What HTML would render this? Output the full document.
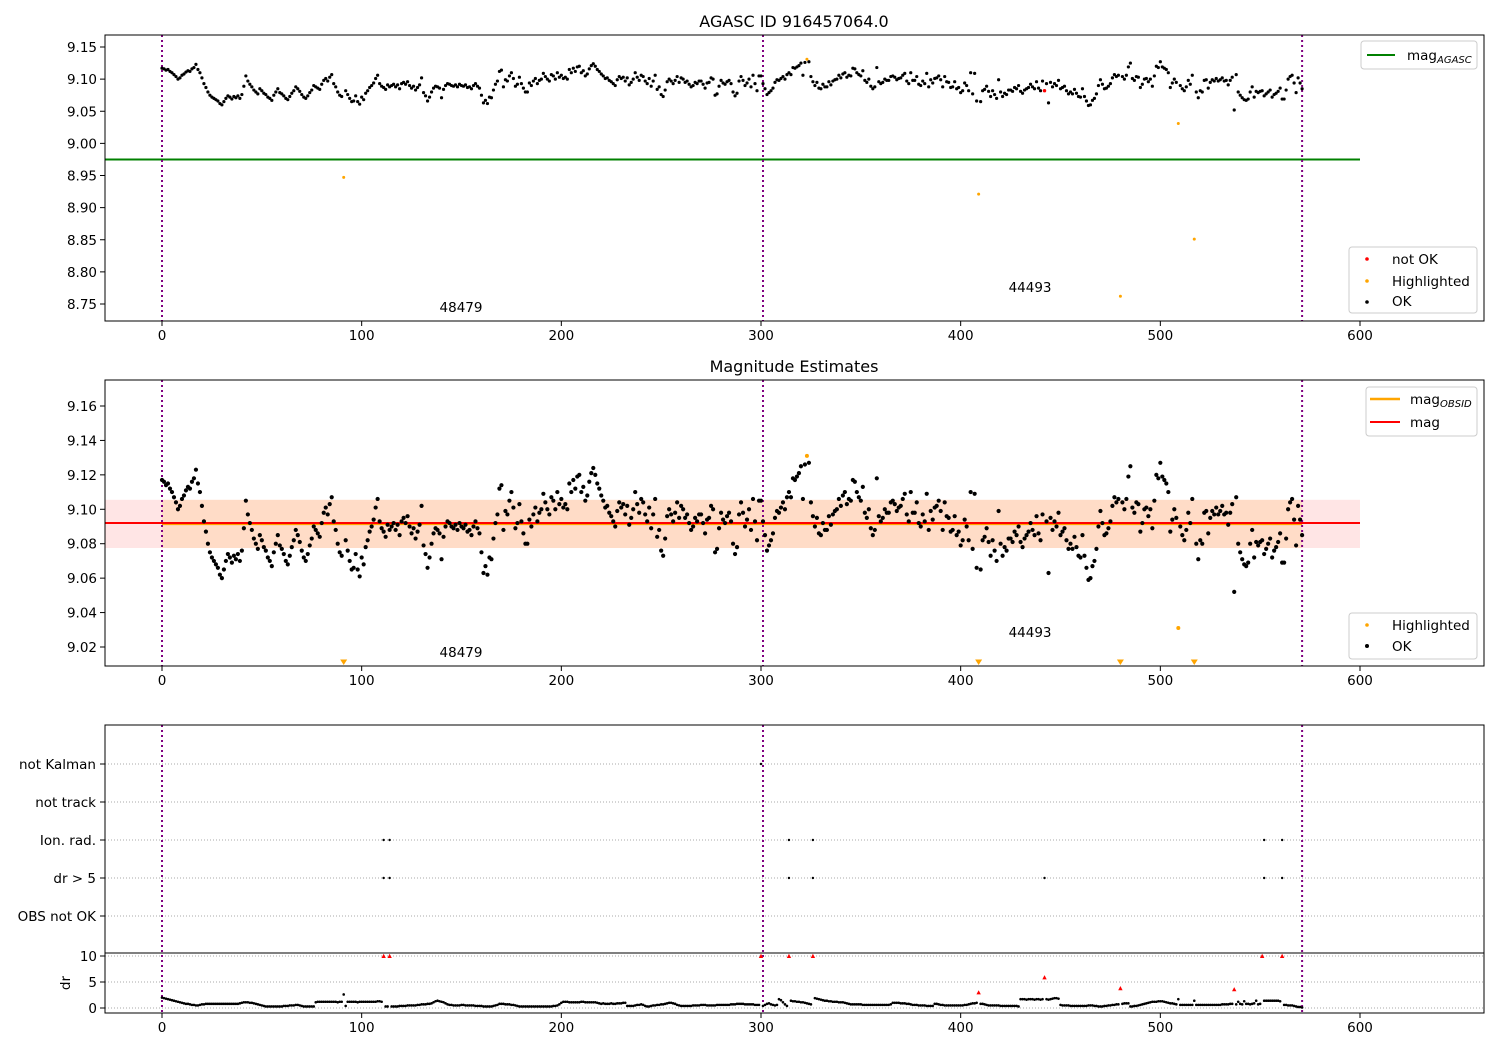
<!DOCTYPE html>
<html><head><meta charset="utf-8">
<style>
html,body{margin:0;padding:0;background:#fff;}
svg{display:block;font-family:"DejaVu Sans","Liberation Sans",sans-serif;}
</style></head>
<body>
<svg id="fig" width="1500" height="1050" viewBox="0 0 1500 1050" xmlns="http://www.w3.org/2000/svg">
<defs>
<clipPath id="c1"><rect x="105" y="35" width="1379" height="286"/></clipPath>
<clipPath id="c2"><rect x="105" y="380" width="1379" height="286"/></clipPath>
<clipPath id="c3"><rect x="105" y="725" width="1379" height="288"/></clipPath>
</defs>
<rect width="1500" height="1050" fill="#fff"/>
<g id="g1"></g>
<g id="g2"></g>
<g id="g3"></g>
</svg>
<script>
const magMilli = [
117,116,114,115,112,110,107,104,100,102,106,108,111,113,112,116,118,123,115,110,
102,93,87,80,75,72,70,68,66,62,60,65,70,74,72,69,73,71,74,70,
76,89,105,97,92,88,83,80,77,85,82,78,76,72,70,67,75,80,85,79,
77,74,70,68,73,78,82,88,85,81,76,72,70,74,79,83,90,88,86,84,
92,98,101,97,103,107,93,88,80,75,73,-53,82,76,70,65,66,74,65,61,
72,68,78,82,87,90,94,101,106,93,89,87,84,91,88,90,92,88,91,85,
93,95,92,96,90,86,89,83,87,91,102,79,74,66,72,80,86,89,88,86,
71,84,90,93,92,90,89,91,88,92,90,89,91,87,88,85,90,93,89,86,
75,63,67,62,72,71,83,92,97,112,114,88,99,97,105,110,101,89,92,103,
93,86,80,80,94,90,97,101,93,98,100,109,104,100,97,107,105,100,110,103,
106,101,103,100,115,110,117,112,119,120,110,113,105,108,116,121,124,120,115,112,
108,105,101,102,98,96,93,90,99,104,101,103,97,102,91,95,100,110,103,98,
106,104,97,93,101,89,97,106,84,88,76,73,83,96,100,97,93,98,104,95,
102,100,95,97,92,88,90,95,93,97,97,92,86,94,95,102,100,75,77,89,
98,94,92,96,98,93,80,74,78,97,104,98,90,94,100,88,106,93,82,105,
105,93,85,76,79,82,86,95,99,98,101,104,100,107,110,107,118,117,119,121,
125,106,126,131,127,104,96,90,95,86,85,92,88,88,96,91,97,99,100,106,
102,108,110,103,106,105,117,116,110,107,105,113,98,95,100,89,85,88,118,96,
93,95,100,98,98,104,105,103,99,101,102,106,109,97,93,110,98,98,104,92,
90,97,93,109,88,99,94,101,102,105,99,88,104,96,95,87,88,96,85,87,
79,82,94,90,82,110,77,109,66,-79,65,82,84,89,81,73,82,76,70,99,
80,73,78,76,83,83,81,87,85,90,81,78,83,85,87,92,88,85,96,86,
82,97,82,93,63,95,88,93,90,98,85,87,89,82,77,80,77,84,78,73,
72,85,73,66,59,60,67,70,77,90,99,92,85,86,89,93,102,107,104,106,
-238,104,100,106,119,125,101,98,104,103,87,92,100,101,96,100,89,105,120,118,
127,119,117,115,110,87,94,100,95,31,90,85,82,88,98,92,106,-149,80,71,
82,80,98,99,86,95,99,97,101,97,99,102,97,98,91,98,103,52,107,80,
75,71,68,67,69,80,88,72,81,79,81,82,74,77,80,83,72,76,78,81,
86,69,69,83,100,104,106,94,79,102,94,85];
const drTenths = [
20,19,18,17,16,15,14,13,12,11,10,9,8,8,7,6,6,5,5,6,
7,7,8,8,8,8,8,8,8,8,8,8,8,8,8,8,8,8,8,9,
10,11,11,11,10,10,9,8,7,6,5,4,3,3,3,3,3,3,3,3,
3,4,4,4,5,5,5,6,6,5,4,3,3,3,3,3,3,11,12,12,
12,12,12,12,12,12,12,12,11,12,12,26,4,12,12,12,12,12,11,12,
12,12,12,12,12,12,12,12,13,13,12,100,3,3,100,3,3,3,3,4,
4,4,4,5,5,5,5,5,6,6,7,7,7,8,8,9,11,13,14,13,
12,11,9,7,6,6,5,5,5,5,6,6,5,5,5,5,5,4,4,4,
4,3,3,3,3,3,4,5,6,8,8,8,7,7,7,6,6,5,4,3,
3,3,3,3,3,3,3,3,3,3,3,3,3,3,3,3,4,4,5,7,
10,12,12,12,11,11,11,11,11,11,12,12,11,11,11,11,11,11,10,9,
8,9,8,8,8,9,8,8,9,9,9,10,10,4,4,4,4,5,6,6,
7,6,4,3,3,4,5,5,6,6,7,7,8,9,10,10,9,8,6,5,
4,4,4,4,4,4,5,5,5,5,6,6,6,5,5,5,5,5,6,6,
6,6,6,6,6,7,7,7,8,8,8,8,7,7,7,7,7,6,6,6,
100,4,6,8,9,7,6,5,6,17,15,11,7,4,100,14,13,13,12,12,
11,11,10,9,8,7,100,19,18,17,16,15,14,14,13,13,12,12,12,11,
11,11,10,9,8,7,7,7,7,7,7,6,6,6,6,6,6,6,6,6,
6,6,6,6,6,7,10,10,10,10,9,9,9,8,8,7,6,6,6,5,
5,5,5,4,4,4,4,8,8,7,6,6,5,5,5,5,5,5,5,5,
5,5,6,6,7,8,9,9,10,30,8,8,7,6,5,5,5,5,5,5,
4,4,4,4,4,4,4,4,4,3,17,17,17,16,17,17,17,16,17,17,
16,17,59,17,16,17,18,19,19,18,6,5,5,5,5,4,4,4,4,4,
4,4,4,4,5,5,5,4,4,3,3,3,4,4,5,5,6,6,7,7,
38,8,9,9,9,3,3,4,4,5,6,7,8,9,10,11,12,12,12,13,
13,13,12,11,10,9,9,8,7,17,6,6,6,6,6,6,6,14,6,6,
6,6,6,6,6,6,6,6,6,6,6,7,7,7,7,8,8,36,7,12,
8,7,13,8,8,7,8,9,14,7,8,100,14,14,14,14,14,14,14,14,
13,100,6,6,5,5,5,4,3,2,2,1];
const highlightIdx = [91,323,409,480,509,517];
const magNotOkIdx = [442];
const drNotOkIdx = [111,114,300,314,326,409,442,480,537,551,561];
const notKalmanIdx = [300];
const ionRadIdx = [111,114,314,326,552,561];
const drGt5Idx = [111,114,314,326,442,552,561];
const obsBoundaries = [0,301,571];
const obsLabels = ["48479","44493"];
const obsLabelX = [139,424];
const xTicks = [0,100,200,300,400,500,600];
const y1Ticks = [8.75,8.80,8.85,8.90,8.95,9.00,9.05,9.10,9.15];
const y2Ticks = [9.02,9.04,9.06,9.08,9.10,9.12,9.14,9.16];
const flagLabels = ["OBS not OK","dr > 5","Ion. rad.","not track","not Kalman"];
const drTicks = [0,5,10];
const magAgasc = 8.975;
const magMean = 9.092;
const magObsid = 9.0915;
const bandLo = 9.0775, bandHi = 9.1055;

const NS="http://www.w3.org/2000/svg";
const L=105,R=1484;
const X=i=>162+i*1.99667;
const Y1=v=>47+(9.15-v)*642.5;
const Y2=v=>406+(9.16-v)*1721.4;
const Yd=v=>1008-Math.min(v,10)*5.2;
const Yf=k=>916-k*38;
const mag=i=>9+magMilli[i]/1000;

function mk(parent,tag,attrs,text){const e=document.createElementNS(NS,tag);for(const k in attrs)e.setAttribute(k,attrs[k]);if(text!==undefined)e.textContent=text;parent.appendChild(e);return e;}

function frame(g,top,bot){
  const r=mk(g,'rect',{x:L,y:top,width:R-L,height:bot-top,fill:'none',stroke:'#000','stroke-width':1});
  
  
}
function xAxis(g,bot){
  xTicks.forEach(t=>{
    const x=X(t);
    mk(g,'line',{x1:x,y1:bot,x2:x,y2:bot+5,stroke:'#000'});
    const tx=mk(g,'text',{x:x,y:bot+19,'font-size':13.5,'text-anchor':'middle'},String(t));
    
    
  });
}
function yAxis(g,ticks,Yf2,fmt){
  ticks.forEach(t=>{
    const y=Yf2(t);
    mk(g,'line',{x1:L-5,y1:y,x2:L,y2:y,stroke:'#000'});
    const tx=mk(g,'text',{x:L-8,y:y+5,'font-size':13.5,'text-anchor':'end'},fmt(t));
    
    
  });
}
function vlines(g,top,bot){
  obsBoundaries.forEach(b=>{
    const l=mk(g,'line',{x1:X(b),y1:top,x2:X(b),y2:bot,stroke:'#800080','stroke-width':2,'stroke-dasharray':'2,3'});
    
    
  });
}
function dot(g,x,y,r,c,name){
  const d=mk(g,'circle',{cx:x,cy:y,r:r,fill:c});
  
  
  return d;
}
function title(g,x,y,t){
  const e=mk(g,'text',{x:x,y:y,'font-size':16,'text-anchor':'middle'},t);
  
  
}
function legendBox(g,x,y,w,h){
  const b=mk(g,'rect',{x:x,y:y,width:w,height:h,rx:3,fill:'#fff','fill-opacity':0.8,stroke:'#ccc'});
  
  
}
function legendText(g,x,y,t,name){
  const e=mk(g,'text',{x:x,y:y,'font-size':13.5},t);
  
  
  return e;
}

// Panel 1
(function(){
  const g=document.getElementById('g1');
  const p=mk(g,'g',{'clip-path':'url(#c1)'});
  const gl=mk(p,'line',{x1:L,y1:Y1(magAgasc),x2:X(600),y2:Y1(magAgasc),stroke:'#008000','stroke-width':2});
  
  
  vlines(p,35,321);
  for(let i=0;i<magMilli.length;i++){
    if(highlightIdx.includes(i)||magNotOkIdx.includes(i))continue;
    dot(p,X(i),Y1(mag(i)),1.6,'#000','ok-point');
  }
  highlightIdx.forEach(i=>dot(p,X(i),Y1(mag(i)),1.5,'orange','highlighted-point'));
  magNotOkIdx.forEach(i=>dot(p,X(i),Y1(mag(i)),1.7,'red','not-ok-point'));
  const ly=[307,287];
  obsLabels.forEach((t,k)=>{const e=mk(g,'text',{x:X(obsLabelX[k]),y:ly[k]+5,'font-size':13.5},t);});
  frame(g,35,321);xAxis(g,321);yAxis(g,y1Ticks,Y1,v=>v.toFixed(2));
  title(g,794,27,'AGASC ID 916457064.0');
  legendBox(g,1361,41,116,28);
  mk(g,'line',{x1:1367,y1:55,x2:1395,y2:55,stroke:'#008000','stroke-width':2});
  const t=legendText(g,1407,60,'mag','legend-entry-mag-agasc');
  mk(t,'tspan',{'font-size':10,'font-style':'italic',dy:3},'AGASC');
  legendBox(g,1349,247,128,66);
  dot(g,1367,259,1.8,'red','legend-marker');legendText(g,1392,264,'not OK','legend-entry-not-ok');
  dot(g,1367,281,1.8,'orange','legend-marker');legendText(g,1392,286,'Highlighted','legend-entry-highlighted');
  dot(g,1367,302,1.8,'#000','legend-marker');legendText(g,1392,306,'OK','legend-entry-ok');
})();

// Panel 2
(function(){
  const g=document.getElementById('g2');
  const p=mk(g,'g',{'clip-path':'url(#c2)'});
  const b1=mk(p,'rect',{x:L,y:Y2(bandHi),width:X(600)-L,height:Y2(bandLo)-Y2(bandHi),fill:'#ff0000','fill-opacity':0.1});
  
  
  const b2=mk(p,'rect',{x:X(0),y:Y2(bandHi),width:X(571)-X(0),height:Y2(bandLo)-Y2(bandHi),fill:'#ffa500','fill-opacity':0.13});
  
  
  const ol=mk(p,'line',{x1:X(0),y1:Y2(magObsid),x2:X(571),y2:Y2(magObsid),stroke:'orange','stroke-width':2.5});
  
  
  const rl=mk(p,'line',{x1:L,y1:Y2(magMean),x2:X(600),y2:Y2(magMean),stroke:'red','stroke-width':2});
  
  
  vlines(p,380,666);
  for(let i=0;i<magMilli.length;i++){
    if(highlightIdx.includes(i)||magNotOkIdx.includes(i))continue;
    dot(p,X(i),Y2(mag(i)),2.1,'#000','ok-point');
  }
  highlightIdx.forEach(i=>{
    const v=mag(i);
    if(v<9.009){
      const x=X(i),y=663;
      const tr=mk(p,'path',{d:`M${x-3.5},${y-3.5}L${x+3.5},${y-3.5}L${x},${y+2}Z`,fill:'orange'});
      
      
    } else dot(p,X(i),Y2(v),2,'orange','highlighted-point');
  });
  const ly=[652,632];
  obsLabels.forEach((t,k)=>{const e=mk(g,'text',{x:X(obsLabelX[k]),y:ly[k]+5,'font-size':13.5},t);});
  frame(g,380,666);xAxis(g,666);yAxis(g,y2Ticks,Y2,v=>v.toFixed(2));
  title(g,794,372,'Magnitude Estimates');
  legendBox(g,1366,387,111,49);
  mk(g,'line',{x1:1370,y1:399,x2:1400,y2:399,stroke:'orange','stroke-width':2.5});
  const t=legendText(g,1410,404,'mag','legend-entry-mag-obsid');
  mk(t,'tspan',{'font-size':10,'font-style':'italic',dy:3},'OBSID');
  mk(g,'line',{x1:1370,y1:422,x2:1400,y2:422,stroke:'red','stroke-width':2});
  legendText(g,1410,427,'mag','legend-entry-mag');
  legendBox(g,1349,613,128,46);
  dot(g,1367,625,1.8,'orange','legend-marker');legendText(g,1392,630,'Highlighted','legend-entry-highlighted');
  dot(g,1367,646,2,'#000','legend-marker');legendText(g,1392,651,'OK','legend-entry-ok');
})();

// Panel 3
(function(){
  const g=document.getElementById('g3');
  flagLabels.forEach((t,k)=>{
    mk(g,'line',{x1:L,y1:Yf(k),x2:R,y2:Yf(k),stroke:'#aaa','stroke-dasharray':'1,2'});
  });
  drTicks.forEach(t=>mk(g,'line',{x1:L,y1:Yd(t),x2:R,y2:Yd(t),stroke:'#aaa','stroke-dasharray':'1,2'}));
  const p=mk(g,'g',{'clip-path':'url(#c3)'});
  vlines(p,725,1013);
  notKalmanIdx.forEach(i=>dot(p,X(i),Yf(4),1.2,'#000','not-kalman-flag'));
  ionRadIdx.forEach(i=>dot(p,X(i),Yf(2),1.2,'#000','ion-rad-flag'));
  drGt5Idx.forEach(i=>dot(p,X(i),Yf(1),1.2,'#000','dr-gt-5-flag'));
  for(let i=0;i<drTenths.length;i++){
    if(drNotOkIdx.includes(i))continue;
    dot(p,X(i),Yd(drTenths[i]/10),1.3,'#000','dr-point');
  }
  drNotOkIdx.forEach(i=>{
    const x=X(i),y=Yd(drTenths[i]/10);
    const tr=mk(p,'path',{d:`M${x-2.2},${y+2}L${x+2.2},${y+2}L${x},${y-2.2}Z`,fill:'red'});
    
    
  });
  frame(g,725,1013);
  const sep=mk(g,'line',{x1:L,y1:953,x2:R,y2:953,stroke:'#000'});
  
  
  xAxis(g,1013);
  flagLabels.forEach((t,k)=>{
    const y=Yf(k);
    mk(g,'line',{x1:L-5,y1:y,x2:L,y2:y,stroke:'#000'});
    const e=mk(g,'text',{x:L-9,y:y+5,'font-size':13.5,'text-anchor':'end'},t);
    
    
  });
  yAxis(g,drTicks,Yd,v=>String(v));
  const yl=mk(g,'text',{x:70,y:983,'font-size':13.5,'text-anchor':'middle',transform:'rotate(-90 70 983)'},'dr');
  
  
})();
</script>
</body></html>
